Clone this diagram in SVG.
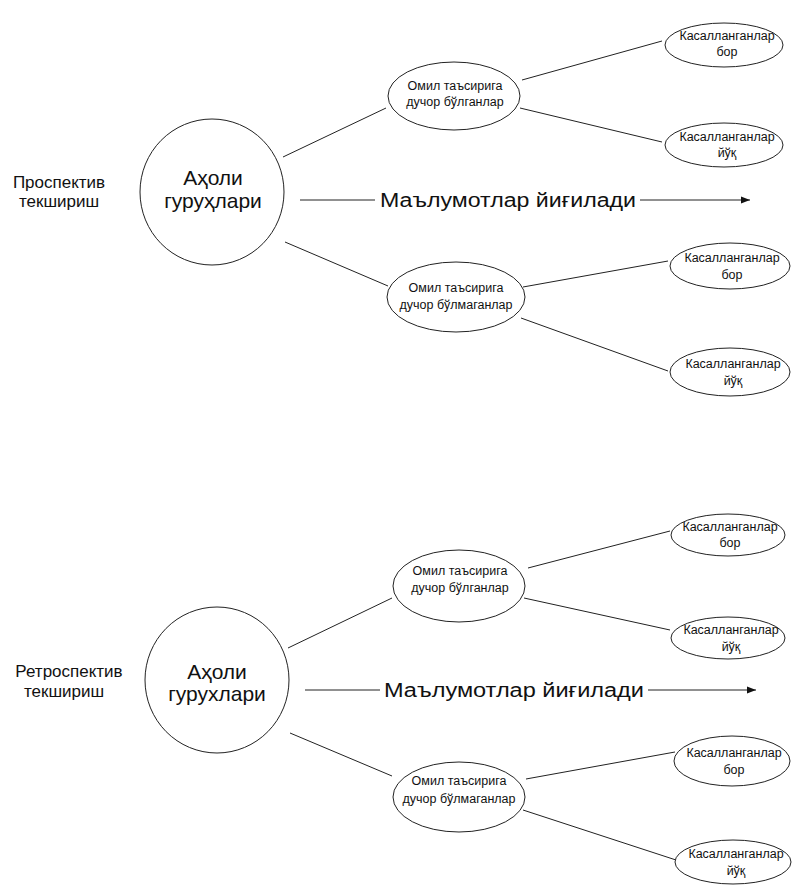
<svg xmlns="http://www.w3.org/2000/svg" width="792" height="886" viewBox="0 0 792 886">
<style>
.n{fill:#fff;stroke:#222;stroke-width:1}
.c{stroke:#222;stroke-width:1;fill:none}
text{font-family:"Liberation Sans",Arial,sans-serif;fill:#111;text-anchor:middle}
.big{font-size:21px}
.mid{font-size:20px}
.lab{font-size:17px}
.sm{font-size:12.5px}
</style>
<defs>
<marker id="ah" viewBox="0 0 10 10" refX="10" refY="5" markerWidth="9" markerHeight="9" markerUnits="userSpaceOnUse" orient="auto">
<path d="M0,1 L10,5 L0,9 z" fill="#111"/>
</marker>
</defs>
<rect width="792" height="886" fill="#fff"/>
<g id="connectors">
<line class="c" x1="283" y1="157" x2="386" y2="108"/>
<line class="c" x1="522" y1="80" x2="662" y2="41"/>
<line class="c" x1="520" y1="108" x2="662" y2="142"/>
<line class="c" x1="285" y1="242" x2="388" y2="286"/>
<line class="c" x1="523" y1="287" x2="668" y2="261"/>
<line class="c" x1="521" y1="318" x2="668" y2="371"/>
<line class="c" x1="300" y1="200" x2="375" y2="200"/>
<line class="c" x1="640" y1="200" x2="750" y2="200" marker-end="url(#ah)"/>
<line class="c" x1="288" y1="648" x2="392" y2="598"/>
<line class="c" x1="528" y1="568" x2="670" y2="531"/>
<line class="c" x1="524" y1="598" x2="670" y2="630"/>
<line class="c" x1="290" y1="733" x2="392" y2="776"/>
<line class="c" x1="526" y1="779" x2="675" y2="752"/>
<line class="c" x1="523" y1="810" x2="676" y2="860"/>
<line class="c" x1="305" y1="690" x2="380" y2="690"/>
<line class="c" x1="648" y1="690" x2="756" y2="690" marker-end="url(#ah)"/>
</g>
<g id="label-prospective">
<text class="lab" x="59" y="188">Проспектив</text>
<text class="lab" x="59" y="207">текшириш</text>
</g>
<g id="label-retrospective">
<text class="lab" x="69" y="677">Ретроспектив</text>
<text class="lab" x="64" y="697">текшириш</text>
</g>
<g id="data-1">
<text class="mid" x="508" y="207" textLength="256" lengthAdjust="spacingAndGlyphs">Маълумотлар йиғилади</text>
</g>
<g id="data-2">
<text class="mid" x="514" y="697" textLength="260" lengthAdjust="spacingAndGlyphs">Маълумотлар йиғилади</text>
</g>
<g id="pop-1">
<ellipse class="n" cx="212" cy="192" rx="72" ry="73"/>
<text class="big" x="213" y="185">Аҳоли</text>
<text class="big" x="213" y="208">гуруҳлари</text>
</g>
<g id="exp-1">
<ellipse class="n" cx="454" cy="96" rx="66" ry="34"/>
<text class="sm" x="455" y="90">Омил таъсирига</text>
<text class="sm" x="455" y="106">дучор бўлганлар</text>
</g>
<g id="exp-1-yes">
<ellipse class="n" cx="724" cy="45" rx="59" ry="22"/>
<text class="sm" x="727" y="40">Касалланганлар</text>
<text class="sm" x="727" y="56">бор</text>
</g>
<g id="exp-1-no">
<ellipse class="n" cx="724" cy="145" rx="59" ry="22"/>
<text class="sm" x="727" y="141">Касалланганлар</text>
<text class="sm" x="727" y="157">йўқ</text>
</g>
<g id="nexp-1">
<ellipse class="n" cx="456" cy="297" rx="69" ry="35"/>
<text class="sm" x="456" y="292">Омил таъсирига</text>
<text class="sm" x="456" y="309">дучор бўлмаганлар</text>
</g>
<g id="nexp-1-yes">
<ellipse class="n" cx="730" cy="266" rx="60" ry="23"/>
<text class="sm" x="732" y="262">Касалланганлар</text>
<text class="sm" x="732" y="279">бор</text>
</g>
<g id="nexp-1-no">
<ellipse class="n" cx="730" cy="372" rx="60" ry="24"/>
<text class="sm" x="733" y="368">Касалланганлар</text>
<text class="sm" x="733" y="385">йўқ</text>
</g>
<g id="pop-2">
<ellipse class="n" cx="217" cy="680" rx="72" ry="73"/>
<text class="big" x="217" y="679">Аҳоли</text>
<text class="big" x="217" y="701">гурухлари</text>
</g>
<g id="exp-2">
<ellipse class="n" cx="459" cy="586" rx="66" ry="36"/>
<text class="sm" x="460" y="575">Омил таъсирига</text>
<text class="sm" x="460" y="592">дучор бўлганлар</text>
</g>
<g id="exp-2-yes">
<ellipse class="n" cx="728" cy="535" rx="57" ry="21"/>
<text class="sm" x="730" y="531">Касалланганлар</text>
<text class="sm" x="730" y="547">бор</text>
</g>
<g id="exp-2-no">
<ellipse class="n" cx="728" cy="638" rx="57" ry="21"/>
<text class="sm" x="731" y="634">Касалланганлар</text>
<text class="sm" x="731" y="651">йўқ</text>
</g>
<g id="nexp-2">
<ellipse class="n" cx="459" cy="797" rx="66" ry="35"/>
<text class="sm" x="459" y="785">Омил таъсирига</text>
<text class="sm" x="459" y="803">дучор бўлмаганлар</text>
</g>
<g id="nexp-2-yes">
<ellipse class="n" cx="732" cy="761" rx="58" ry="25"/>
<text class="sm" x="734" y="757">Касалланганлар</text>
<text class="sm" x="734" y="774">бор</text>
</g>
<g id="nexp-2-no">
<ellipse class="n" cx="733" cy="862" rx="58" ry="22"/>
<text class="sm" x="736" y="858">Касалланганлар</text>
<text class="sm" x="736" y="875">йўқ</text>
</g>
</svg>
